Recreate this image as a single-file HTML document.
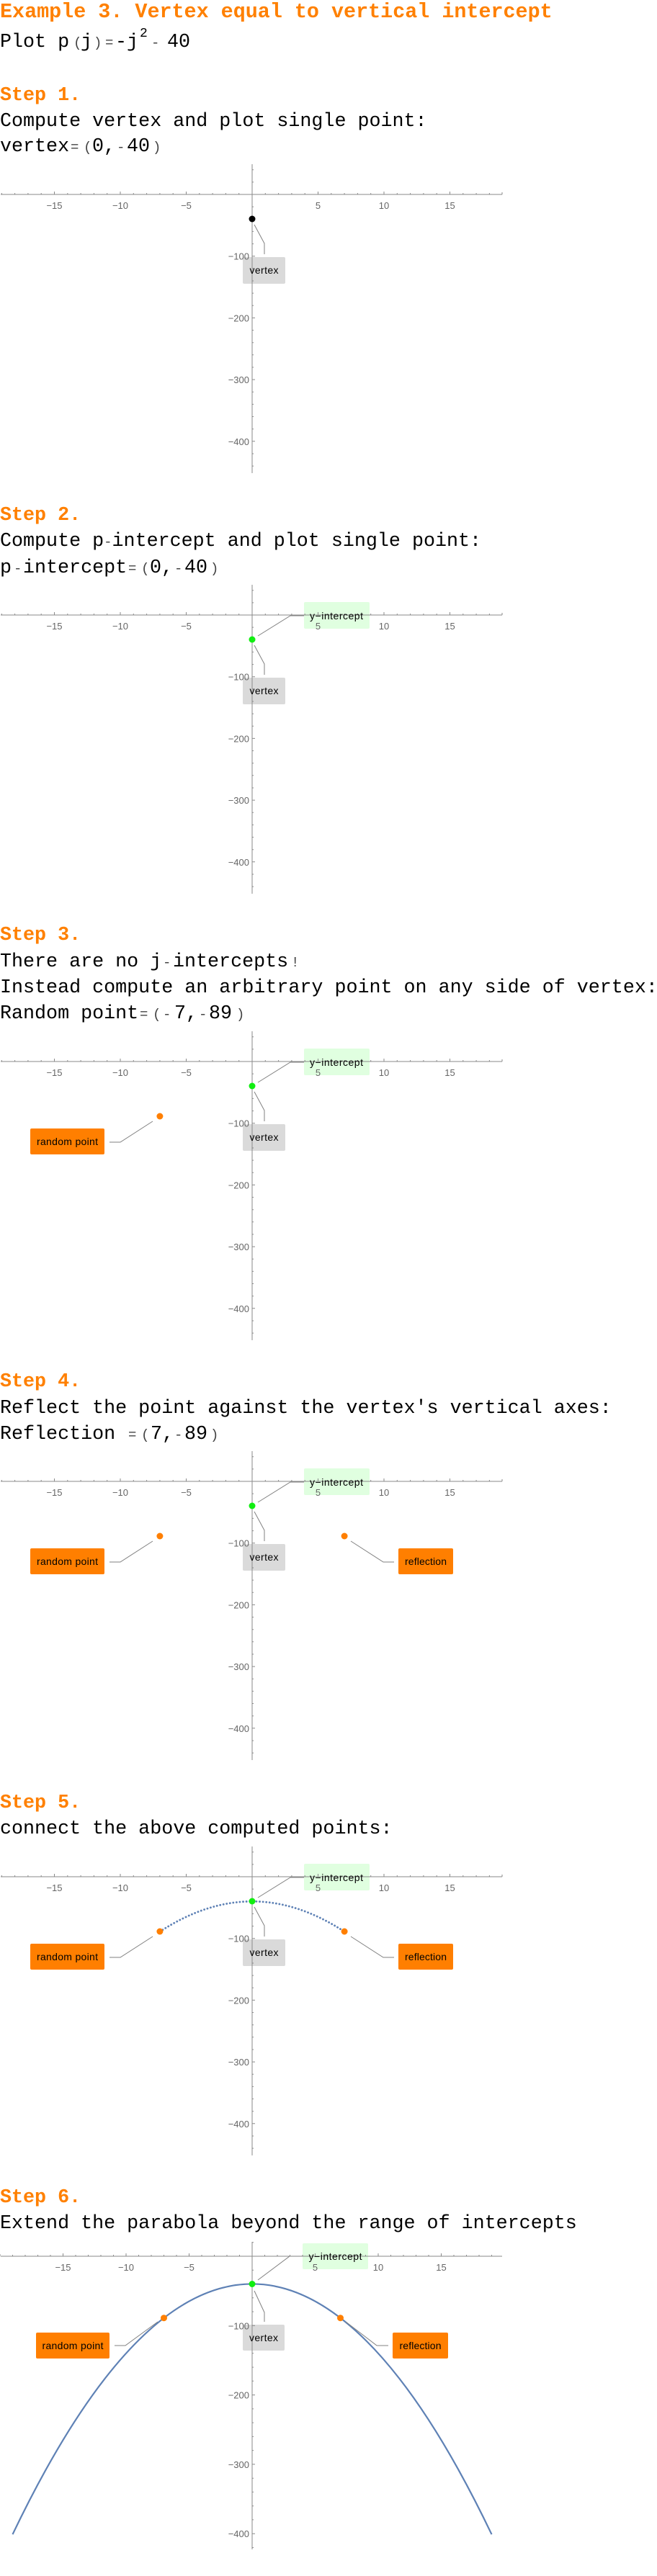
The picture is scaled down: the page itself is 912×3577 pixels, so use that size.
<!DOCTYPE html>
<html><head><meta charset="utf-8">
<style>
html,body{margin:0;padding:0;background:#fff;}
svg{display:block;}
.h{font-family:"Liberation Mono",monospace;font-weight:bold;fill:#ff8000;}
.b{font-family:"Liberation Mono",monospace;fill:#000;font-size:26.7px;}
.s{font-size:19px;fill:#444;}
.tl{font-family:"Liberation Sans",sans-serif;font-size:13px;fill:#666;}
.lb{font-family:"Liberation Sans",sans-serif;font-size:14px;fill:#000;text-anchor:middle;}
.ax{stroke:#8a8a8a;stroke-width:1;fill:none;}
.cn{stroke:#808080;stroke-width:1;fill:none;}
</style></head><body>
<svg width="912" height="3577" viewBox="0 0 912 3577" xmlns="http://www.w3.org/2000/svg">
<defs>
<g id="ax">
<path class="ax" d="M1 0H697M350 -42V387"/>
<path class="ax" d="M75.5 0v-4M167 0v-4M258.5 0v-4M441.5 0v-4M533 0v-4M624.5 0v-4
M2.3 0v-2M20.6 0v-2M38.9 0v-2M57.2 0v-2M93.8 0v-2M112.1 0v-2M130.4 0v-2M148.7 0v-2M185.3 0v-2M203.6 0v-2M221.9 0v-2M240.2 0v-2M276.8 0v-2M295.1 0v-2M313.4 0v-2M331.7 0v-2M368.3 0v-2M386.6 0v-2M404.9 0v-2M423.2 0v-2M459.8 0v-2M478.1 0v-2M496.4 0v-2M514.7 0v-2M551.3 0v-2M569.6 0v-2M587.9 0v-2M606.2 0v-2M642.8 0v-2M661.1 0v-2M679.4 0v-2M697 0v-3
M350 85.7h4M350 171.4h4M350 257.1h4M350 342.8h4
M350 -34.3h2M350 -17.1h2M350 17.1h2M350 34.3h2M350 51.4h2M350 68.6h2M350 102.8h2M350 120h2M350 137.1h2M350 154.3h2M350 188.5h2M350 205.7h2M350 222.8h2M350 240h2M350 274.3h2M350 291.4h2M350 308.5h2M350 325.7h2M350 360h2M350 377.1h2"/>
<g class="tl">
<text x="75.5" y="20" text-anchor="middle">−15</text><text x="167" y="20" text-anchor="middle">−10</text><text x="258.5" y="20" text-anchor="middle">−5</text><text x="441.5" y="20" text-anchor="middle">5</text><text x="533" y="20" text-anchor="middle">10</text><text x="624.5" y="20" text-anchor="middle">15</text>
<text x="346" y="90.7" text-anchor="end">−100</text><text x="346" y="176.4" text-anchor="end">−200</text><text x="346" y="262.1" text-anchor="end">−300</text><text x="346" y="347.8" text-anchor="end">−400</text>
</g>
</g>
<g id="ax6">
<path class="ax" d="M1 0H697M350 -20V407"/>
<path class="ax" d="M87.5 0v-4M175 0v-4M262.5 0v-4M437.5 0v-4M525 0v-4M612.5 0v-4
M0 0v-3M17.5 0v-2M35 0v-2M52.5 0v-2M70 0v-2M105 0v-2M122.5 0v-2M140 0v-2M157.5 0v-2M192.5 0v-2M210 0v-2M227.5 0v-2M245 0v-2M280 0v-2M297.5 0v-2M315 0v-2M332.5 0v-2M367.5 0v-2M385 0v-2M402.5 0v-2M420 0v-2M455 0v-2M472.5 0v-2M490 0v-2M507.5 0v-2M542.5 0v-2M560 0v-2M577.5 0v-2M595 0v-2M630 0v-2M647.5 0v-2M665 0v-2M682.5 0v-2
M350 96.3h4M350 192.6h4M350 288.9h4M350 385.2h4
M350 -19.3h2M350 19.3h2M350 38.5h2M350 57.8h2M350 77h2M350 115.6h2M350 134.8h2M350 154.1h2M350 173.3h2M350 211.9h2M350 231.1h2M350 250.4h2M350 269.6h2M350 308.2h2M350 327.4h2M350 346.7h2M350 365.9h2M350 404.5h2"/>
<g class="tl">
<text x="87.5" y="20" text-anchor="middle">−15</text><text x="175" y="20" text-anchor="middle">−10</text><text x="262.5" y="20" text-anchor="middle">−5</text><text x="437.5" y="20" text-anchor="middle">5</text><text x="525" y="20" text-anchor="middle">10</text><text x="612.5" y="20" text-anchor="middle">15</text>
<text x="346" y="101.3" text-anchor="end">−100</text><text x="346" y="197.6" text-anchor="end">−200</text><text x="346" y="293.9" text-anchor="end">−300</text><text x="346" y="390.2" text-anchor="end">−400</text>
</g>
</g>
</defs>

<text class="h" x="0" y="24" font-size="28.4">Example 3. Vertex equal to vertical intercept</text>
<text class="b" y="65"><tspan x="0">Plot p</tspan><tspan x="102" class="s">(</tspan><tspan x="112">j</tspan><tspan x="130" class="s">)</tspan><tspan x="146" class="s">=</tspan><tspan x="160">-j</tspan><tspan x="194" y="51" font-size="18">2</tspan><tspan x="210" y="65" class="s">-</tspan><tspan x="232" y="65">40</tspan></text>

<text class="h" x="0" y="139" font-size="26.7">Step 1.</text>
<text class="b" x="0" y="175">Compute vertex and plot single point:</text>
<text class="b" y="210"><tspan x="0">vertex</tspan><tspan x="98" class="s">=</tspan><tspan x="116" class="s">(</tspan><tspan x="128">0,</tspan><tspan x="162" class="s">-</tspan><tspan x="176">40</tspan><tspan x="212" class="s">)</tspan></text>
<g transform="translate(0,270)">
<rect x="337" y="87" width="59" height="37" rx="2" fill="#dadada"/>
<use href="#ax"/>
<path class="cn" d="M353 42L367 68L367 83"/>
<circle cx="350" cy="34" r="4.5" fill="#000"/>
<text class="lb" x="366.5" y="110" textLength="40">vertex</text>
</g>

<text class="h" x="0" y="722" font-size="26.7">Step 2.</text>
<text class="b" x="0" y="758">Compute p<tspan class="s">-</tspan>intercept and plot single point:</text>
<text class="b" y="795"><tspan x="0">p</tspan><tspan x="19" class="s">-</tspan><tspan x="32">intercept</tspan><tspan x="178" class="s">=</tspan><tspan x="196" class="s">(</tspan><tspan x="208">0,</tspan><tspan x="242" class="s">-</tspan><tspan x="256">40</tspan><tspan x="292" class="s">)</tspan></text>
<g transform="translate(0,854)">
<rect x="337" y="87" width="59" height="37" rx="2" fill="#dadada"/>
<rect x="422" y="-18" width="91" height="37" rx="2" fill="#e0ffe0"/>
<use href="#ax"/>
<path class="cn" d="M353 42L367 68L367 83M358 29L403 1L422 1"/>
<circle cx="350" cy="34" r="4.5" fill="#11ee11"/>
<text class="lb" x="366.5" y="110" textLength="40">vertex</text>
<text class="lb" x="467" y="6" textLength="74">y−intercept</text>
</g>

<text class="h" x="0" y="1305" font-size="26.7">Step 3.</text>
<text class="b" y="1342"><tspan x="0">There are no j</tspan><tspan x="226" class="s">-</tspan><tspan x="240">intercepts</tspan><tspan x="404" class="s">!</tspan></text>
<text class="b" x="0" y="1378">Instead compute an arbitrary point on any side of vertex:</text>
<text class="b" y="1414"><tspan x="0">Random point</tspan><tspan x="194" class="s">=</tspan><tspan x="212" class="s">(</tspan><tspan x="226" class="s">-</tspan><tspan x="242">7,</tspan><tspan x="276" class="s">-</tspan><tspan x="290">89</tspan><tspan x="328" class="s">)</tspan></text>
<g transform="translate(0,1474)">
<rect x="337" y="87" width="59" height="37" rx="2" fill="#dadada"/>
<rect x="422" y="-18" width="91" height="37" rx="2" fill="#e0ffe0"/>
<use href="#ax"/>
<path class="cn" d="M353 42L367 68L367 83M358 29L403 1L422 1M212 83L167 112L152 112"/>
<rect x="42" y="93" width="103" height="36" rx="2" fill="#ff7f00"/>
<circle cx="350" cy="34" r="4.5" fill="#11ee11"/>
<circle cx="221.9" cy="76" r="4.5" fill="#ff7f00"/>
<text class="lb" x="366.5" y="110" textLength="40">vertex</text>
<text class="lb" x="467" y="6" textLength="74">y−intercept</text>
<text class="lb" x="93.5" y="116" textLength="85">random point</text>
</g>

<text class="h" x="0" y="1925" font-size="26.7">Step 4.</text>
<text class="b" x="0" y="1962">Reflect the point against the vertex's vertical axes:</text>
<text class="b" y="1998"><tspan x="0">Reflection </tspan><tspan x="178" class="s">=</tspan><tspan x="196" class="s">(</tspan><tspan x="209">7,</tspan><tspan x="242" class="s">-</tspan><tspan x="256">89</tspan><tspan x="292" class="s">)</tspan></text>
<g transform="translate(0,2057)">
<rect x="337" y="87" width="59" height="37" rx="2" fill="#dadada"/>
<rect x="422" y="-18" width="91" height="37" rx="2" fill="#e0ffe0"/>
<use href="#ax"/>
<path class="cn" d="M353 42L367 68L367 83M358 29L403 1L422 1M212 83L167 112L152 112M487 83L532 112L547 112"/>
<rect x="42" y="93" width="103" height="36" rx="2" fill="#ff7f00"/>
<rect x="553" y="93" width="76" height="36" rx="2" fill="#ff7f00"/>
<circle cx="350" cy="34" r="4.5" fill="#11ee11"/>
<circle cx="221.9" cy="76" r="4.5" fill="#ff7f00"/>
<circle cx="478.1" cy="76" r="4.5" fill="#ff7f00"/>
<text class="lb" x="366.5" y="110" textLength="40">vertex</text>
<text class="lb" x="467" y="6" textLength="74">y−intercept</text>
<text class="lb" x="93.5" y="116" textLength="85">random point</text>
<text class="lb" x="591" y="116" textLength="58">reflection</text>
</g>

<text class="h" x="0" y="2510" font-size="26.7">Step 5.</text>
<text class="b" x="0" y="2546">connect the above computed points:</text>
<g transform="translate(0,2606)">
<rect x="337" y="87" width="59" height="37" rx="2" fill="#dadada"/>
<rect x="422" y="-18" width="91" height="37" rx="2" fill="#e0ffe0"/>
<use href="#ax"/>
<path d="M221.9 76.3Q350 -7.7 478.1 76.3" fill="none" stroke="#5e81b5" stroke-width="2.8" stroke-dasharray="0.1 4.5" stroke-linecap="round"/>
<path class="cn" d="M353 42L367 68L367 83M358 29L403 1L422 1M212 83L167 112L152 112M487 83L532 112L547 112"/>
<rect x="42" y="93" width="103" height="36" rx="2" fill="#ff7f00"/>
<rect x="553" y="93" width="76" height="36" rx="2" fill="#ff7f00"/>
<circle cx="350" cy="34" r="4.5" fill="#11ee11"/>
<circle cx="221.9" cy="76" r="4.5" fill="#ff7f00"/>
<circle cx="478.1" cy="76" r="4.5" fill="#ff7f00"/>
<text class="lb" x="366.5" y="110" textLength="40">vertex</text>
<text class="lb" x="467" y="6" textLength="74">y−intercept</text>
<text class="lb" x="93.5" y="116" textLength="85">random point</text>
<text class="lb" x="591" y="116" textLength="58">reflection</text>
</g>

<text class="h" x="0" y="3058" font-size="26.7">Step 6.</text>
<text class="b" x="0" y="3094">Extend the parabola beyond the range of intercepts</text>
<g transform="translate(0,3133)">
<rect x="337" y="95" width="58" height="36" rx="2" fill="#dadada"/>
<rect x="420" y="-18" width="91" height="36" rx="2" fill="#e0ffe0"/>
<use href="#ax6"/>
<path d="M17.5 386.2Q350 -309.3 682.5 386.2" fill="none" stroke="#5e81b5" stroke-width="2.2"/>
<path class="cn" d="M353 48L367 78L367 91M358 33L402 0L420 0M219 91L174 124L159 124M480 91L523 124L539 124"/>
<rect x="50" y="106" width="102" height="36" rx="2" fill="#ff7f00"/>
<rect x="545" y="106" width="77" height="36" rx="2" fill="#ff7f00"/>
<circle cx="350" cy="38.5" r="4.5" fill="#11ee11"/>
<circle cx="227.5" cy="85.7" r="4.5" fill="#ff7f00"/>
<circle cx="472.5" cy="85.7" r="4.5" fill="#ff7f00"/>
<text class="lb" x="366" y="118" textLength="40">vertex</text>
<text class="lb" x="465.5" y="5" textLength="74">y−intercept</text>
<text class="lb" x="101" y="129" textLength="85">random point</text>
<text class="lb" x="583.5" y="129" textLength="58">reflection</text>
</g>
</svg>
</body></html>
